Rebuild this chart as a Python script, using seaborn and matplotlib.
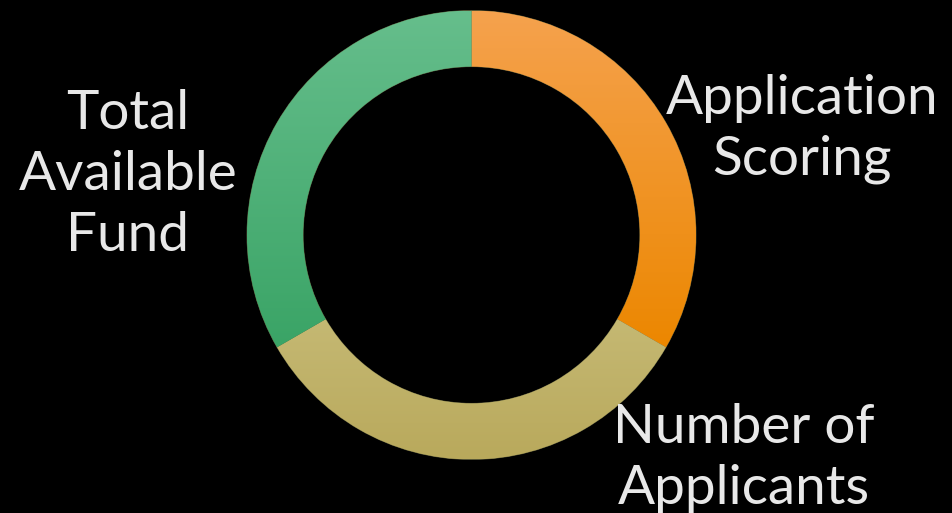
import numpy as np
import matplotlib
matplotlib.use("Agg")
import matplotlib.pyplot as plt
from matplotlib.colors import LinearSegmentedColormap
import seaborn as sns

# ---- data ----
categories = ["Application\nScoring", "Number of\nApplicants", "Total\nAvailable\nFund"]
values = [1, 1, 1]
top_colors = ["#F5A24E", "#CCC281", "#66BE8C"]
bottom_colors = ["#EC8700", "#B9A95C", "#3AA466"]

sns.set_theme(style="dark", rc={"figure.facecolor": "black", "axes.facecolor": "black"})
plt.rcParams["font.family"] = ["Lato", "DejaVu Sans"]

W, H = 953, 513
fig = plt.figure(figsize=(W / 100, H / 100), dpi=100)
fig.patch.set_facecolor("black")

cx, cy, R = 471.5, 235, 224.5
ax = fig.add_axes([(cx - R) / W, (H - cy - R) / H, 2 * R / W, 2 * R / H])
ax.set_facecolor("black")

wedges, _ = ax.pie(values, startangle=90, counterclock=False, radius=1,
                   colors=bottom_colors,
                   wedgeprops=dict(width=0.25, linewidth=0.6, edgecolor="#5a5a3a"))
ax.set_aspect("equal")
ax.axis("off")

for w, ct, cb in zip(wedges, top_colors, bottom_colors):
    verts = w.get_path().vertices
    y0, y1 = verts[:, 1].min(), verts[:, 1].max()
    x0, x1 = verts[:, 0].min(), verts[:, 0].max()
    cmap = LinearSegmentedColormap.from_list("g", [cb, ct])
    grad = np.linspace(0, 1, 256).reshape(-1, 1)
    im = ax.imshow(grad, cmap=cmap, origin="lower", extent=[x0, x1, y0, y1],
                   aspect="auto", interpolation="bilinear", zorder=w.get_zorder() + 0.1)
    im.set_clip_path(w)
ax.set_xlim(-1, 1)
ax.set_ylim(-1, 1)

txt = dict(color="#E8E8E8", fontsize=39.5, ha="center", va="center", linespacing=1.3)
label_pos = [(802, 129), (744, 458), (128, 175)]
for lab, (px, py) in zip(categories, label_pos):
    fig.text(px / W, 1 - py / H, lab, **txt)

fig.savefig("out.png", dpi=100, facecolor="black")
